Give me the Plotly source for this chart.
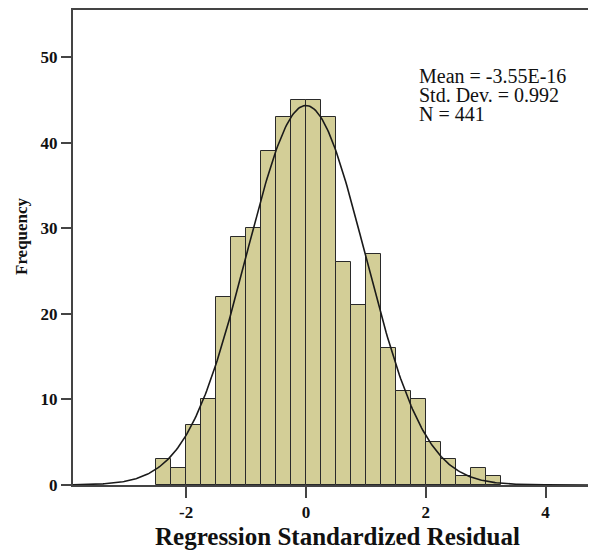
import numpy as np
import plotly.graph_objects as go

# ---- data ----
bin_lower = [-2.5, -2.25, -2.0, -1.75, -1.5, -1.25, -1.0, -0.75, -0.5, -0.25,
             0.0, 0.25, 0.5, 0.75, 1.0, 1.25, 1.5, 1.75, 2.0, 2.25, 2.5, 2.75, 3.0]
counts = [3, 2, 7, 10, 22, 29, 30, 39, 43, 45,
          45, 43, 26, 21, 27, 16, 11, 10, 5, 3, 1, 2, 1]
bin_width = 0.25
stat_mean = -3.55e-16
stat_sd = 0.992
stat_n = 441
stat_lines = ["Mean = -3.55E-16", "Std. Dev. = 0.992", "N = 441"]
x_tick_vals = [-2, 0, 2, 4]
y_tick_vals = [0, 10, 20, 30, 40, 50]

# ---- layout geometry (page has an 8px body margin) ----
OFF = 8
W, H = 596 - OFF, 550 - OFF
ML, MT, MB, MR = 65, 2, 65, 0
x_range = [-3.888, 4.843]
y_range = [0, 55.49]

centers = [b + bin_width / 2 for b in bin_lower]

# fitted normal curve from the reported statistics
xc = np.linspace(x_range[0], x_range[1], 400)
yc = stat_n * bin_width / (stat_sd * np.sqrt(2 * np.pi)) * np.exp(-0.5 * ((xc - stat_mean) / stat_sd) ** 2)

fig = go.Figure()
fig.add_trace(go.Bar(
    x=centers, y=counts, width=bin_width,
    marker=dict(color="#D3CE97", line=dict(color="#2a2a2a", width=1)),
    hoverinfo="x+y", showlegend=False,
))
fig.add_trace(go.Scatter(
    x=xc, y=yc, mode="lines",
    line=dict(color="#1a1a1a", width=1.6),
    hoverinfo="skip", showlegend=False,
))

tick_font = dict(family="Liberation Serif", size=17, color="#111111", weight="bold")
axis_line = "#444444"

fig.update_layout(
    width=W, height=H,
    margin=dict(l=ML, r=MR, t=MT, b=MB, pad=0),
    paper_bgcolor="white", plot_bgcolor="white",
    bargap=0,
    xaxis=dict(
        range=x_range, tickvals=x_tick_vals, ticktext=[str(v) for v in x_tick_vals],
        showgrid=False, zeroline=False,
        showline=True, linecolor=axis_line, linewidth=2, mirror=True,
        ticks="outside", ticklen=11, tickwidth=1.5, tickcolor=axis_line,
        tickfont=tick_font,
    ),
    yaxis=dict(
        range=y_range, tickvals=y_tick_vals, ticktext=[str(v) for v in y_tick_vals],
        showgrid=False, zeroline=False,
        showline=True, linecolor=axis_line, linewidth=2, mirror=False,
        ticks="outside", ticklen=10, tickwidth=1.5, tickcolor=axis_line,
        tickfont=tick_font,
    ),
)

plot_w = W - ML - MR
plot_h = H - MT - MB

def px_to_paper_y(page_py):
    return (H - MB - (page_py - OFF)) / plot_h

def px_to_paper_x(page_px):
    return (page_px - OFF - ML) / plot_w

# stats box, three tightly spaced lines
line_centers_px = [75.7, 95.1, 113.6]
for txt, cy in zip(stat_lines, line_centers_px):
    fig.add_annotation(
        text=txt, xref="paper", yref="paper",
        x=px_to_paper_x(417), y=px_to_paper_y(cy),
        xanchor="left", yanchor="middle", showarrow=False,
        font=dict(family="Liberation Serif", size=20, color="#111111"),
    )

# axis titles
fig.add_annotation(
    text="Frequency", xref="paper", yref="paper",
    x=px_to_paper_x(21), y=px_to_paper_y(236),
    xanchor="center", yanchor="middle", textangle=-90, showarrow=False,
    font=dict(family="Liberation Serif", size=17, color="#111111", weight="bold"),
)
fig.add_annotation(
    text="Regression Standardized Residual", xref="paper", yref="paper",
    x=px_to_paper_x(337.5), y=px_to_paper_y(536.5),
    xanchor="center", yanchor="middle", showarrow=False,
    font=dict(family="Liberation Serif", size=25, color="#111111", weight="bold"),
)

fig.write_html("out.html")
